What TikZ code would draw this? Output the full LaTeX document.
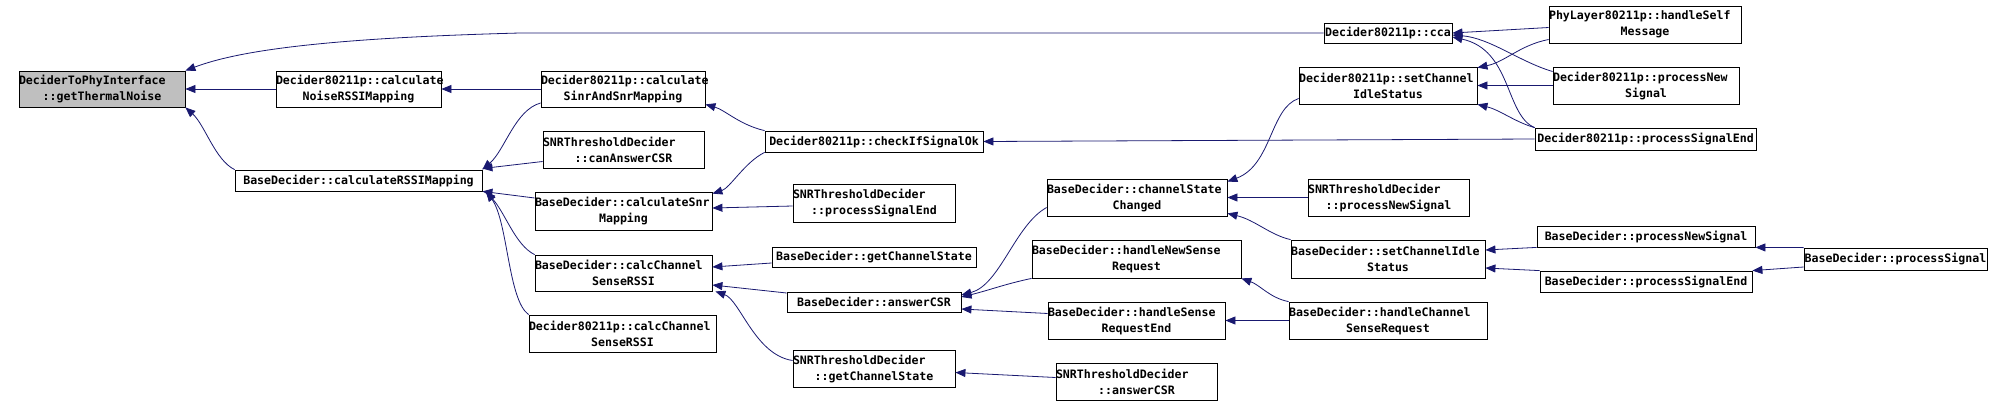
\documentclass[tikz,border=0pt]{standalone}
\usepackage{fontspec}
\usetikzlibrary{arrows.meta}
\newfontfamily\monofam{DejaVu Sans Mono Bold}
\definecolor{edgeblue}{HTML}{191970}
\definecolor{hlgray}{HTML}{BFBFBF}
\newcommand{\mfont}{\monofam\fontsize{11.6}{16}\selectfont}
\newcommand{\tw}[3]{\parbox{#1pt}{\raggedright\noindent #2\par\centering #3\par}}
\tikzset{
  fnbox/.style={draw=black, line width=0.8pt, inner sep=0pt, font=\mfont, text=black, align=center},
  edge/.style={draw=edgeblue, line width=0.8pt, -{Triangle[length=10pt,width=8pt]}},
}
\begin{document}
\begin{tikzpicture}[x=1pt,y=-1pt]
\useasboundingbox (0,0) rectangle (2004,407);
% column 0
\node[fnbox, fill=hlgray, minimum width=166pt, minimum height=36pt] (gtn) at (102,89) {\tw{166}{DeciderToPhyInterface}{::getThermalNoise}};
% column 1
\node[fnbox, minimum width=165pt, minimum height=36pt] (cnrm) at (358.5,89) {\tw{165}{Decider80211p::calculate}{NoiseRSSIMapping}};
\node[fnbox, minimum width=247pt, minimum height=21pt] (crm) at (358.5,180.5) {BaseDecider::calculateRSSIMapping};
% column 2
\node[fnbox, minimum width=164pt, minimum height=36pt] (csm) at (623,89) {\tw{164}{Decider80211p::calculate}{SinrAndSnrMapping}};
\node[fnbox, minimum width=161pt, minimum height=37pt] (cac) at (623.5,149.5) {\tw{161}{SNRThresholdDecider}{::canAnswerCSR}};
\node[fnbox, minimum width=177pt, minimum height=38pt] (csnr) at (623.5,211) {\tw{177}{BaseDecider::calculateSnr}{Mapping}};
\node[fnbox, minimum width=177pt, minimum height=36pt] (bccs) at (623.5,273) {\tw{177}{BaseDecider::calcChannel}{SenseRSSI}};
\node[fnbox, minimum width=187pt, minimum height=37pt] (dccs) at (622.5,333.5) {\tw{187}{Decider80211p::calcChannel}{SenseRSSI}};
% column 3
\node[fnbox, minimum width=218pt, minimum height=21pt] (cso) at (874,141.5) {Decider80211p::checkIfSignalOk};
\node[fnbox, minimum width=162pt, minimum height=38pt] (spse) at (874,203) {\tw{162}{SNRThresholdDecider}{::processSignalEnd}};
\node[fnbox, minimum width=204pt, minimum height=20pt] (bgcs) at (874,257) {BaseDecider::getChannelState};
\node[fnbox, minimum width=174pt, minimum height=20pt] (bacsr) at (874,302) {BaseDecider::answerCSR};
\node[fnbox, minimum width=162pt, minimum height=37pt] (sgcs) at (874,368.5) {\tw{162}{SNRThresholdDecider}{::getChannelState}};
% column 4
\node[fnbox, minimum width=180pt, minimum height=37pt] (csc) at (1137,197.5) {\tw{180}{BaseDecider::channelState}{Changed}};
\node[fnbox, minimum width=209pt, minimum height=38pt] (hnsr) at (1136.5,259) {\tw{209}{BaseDecider::handleNewSense}{Request}};
\node[fnbox, minimum width=177pt, minimum height=37pt] (hsre) at (1136.5,320.5) {\tw{177}{BaseDecider::handleSense}{RequestEnd}};
\node[fnbox, minimum width=161pt, minimum height=37pt] (sacsr) at (1136.5,381.5) {\tw{161}{SNRThresholdDecider}{::answerCSR}};
% column 5
\node[fnbox, minimum width=128pt, minimum height=20pt] (cca) at (1388,33) {Decider80211p::cca};
\node[fnbox, minimum width=178pt, minimum height=37pt] (dscis) at (1388,85.5) {\tw{178}{Decider80211p::setChannel}{IdleStatus}};
\node[fnbox, minimum width=161pt, minimum height=37pt] (snps) at (1388.5,197.5) {\tw{161}{SNRThresholdDecider}{::processNewSignal}};
\node[fnbox, minimum width=194pt, minimum height=38pt] (bscis) at (1388,259) {\tw{194}{BaseDecider::setChannelIdle}{Status}};
\node[fnbox, minimum width=198pt, minimum height=37pt] (hcsr) at (1388,320.5) {\tw{198}{BaseDecider::handleChannel}{SenseRequest}};
% column 6
\node[fnbox, minimum width=192pt, minimum height=37pt] (hsm) at (1645,24.5) {\tw{192}{PhyLayer80211p::handleSelf}{Message}};
\node[fnbox, minimum width=186pt, minimum height=37pt] (dpns) at (1646,85.5) {\tw{186}{Decider80211p::processNew}{Signal}};
\node[fnbox, minimum width=221pt, minimum height=22pt] (dpse) at (1645.5,139) {Decider80211p::processSignalEnd};
\node[fnbox, minimum width=218pt, minimum height=21pt] (bpns) at (1646,236.5) {BaseDecider::processNewSignal};
\node[fnbox, minimum width=212pt, minimum height=21pt] (bpse) at (1646,281.5) {BaseDecider::processSignalEnd};
% column 7
\node[fnbox, minimum width=183pt, minimum height=22pt] (bps) at (1895.5,259) {BaseDecider::processSignal};

% edges
\draw[edge] (cca.west) -- (520,33) .. controls (330,38) and (240,50) .. (gtn.north east);
\draw[edge] (cnrm.west) -- (gtn.east);
\draw[edge] (crm.north west) .. controls (215,160) and (205,125) .. (gtn.south east);
\draw[edge] (csm.west) -- (cnrm.east);
\draw[edge] ([yshift=-14pt]csm.west) .. controls (515,110) and (505,150) .. (crm.north east);
\draw[edge] ([yshift=-12pt]cac.west) -- ([yshift=12pt]crm.east);
\draw[edge] ([yshift=13pt]csnr.west) -- (crm.south east);
\draw[edge] (bccs.north west) .. controls (515,245) and (505,212) .. ([xshift=3pt]crm.south east);
\draw[edge] (dccs.north west) .. controls (508,300) and (508,222) .. ([xshift=4pt]crm.south east);
\draw[edge] (cso.north west) .. controls (740,125) and (725,110) .. ([yshift=3pt]csm.south east);
\draw[edge] (cso.south west) .. controls (745,162) and (730,188) .. ([yshift=-2pt]csnr.north east);
\draw[edge] ([yshift=-3pt]spse.west) -- ([yshift=3pt]csnr.east);
\draw[edge] ([yshift=-6pt]bgcs.west) -- ([yshift=6pt]bccs.east);
\draw[edge] ([yshift=9pt]bacsr.west) -- ([yshift=-12pt]bccs.east);
\draw[edge] ([yshift=8pt]sgcs.west) .. controls (755,355) and (740,300) .. ([xshift=3pt]bccs.south east);
\draw[edge] (dpse.west) -- (cso.east);
\draw[edge] ([yshift=-10pt]csc.west) .. controls (1015,225) and (1000,285) .. ([yshift=7pt]bacsr.east);
\draw[edge] (hnsr.south west) .. controls (1005,284) and (990,290) .. ([yshift=5pt]bacsr.east);
\draw[edge] ([yshift=7pt]hsre.west) -- ([yshift=-7pt]bacsr.east);
\draw[edge] ([yshift=4pt]sacsr.west) -- ([yshift=-4pt]sgcs.east);
\draw[edge] ([yshift=-13pt]dscis.west) .. controls (1270,108) and (1272,165) .. ([yshift=-3pt]csc.north east);
\draw[edge] (snps.west) -- (csc.east);
\draw[edge] (bscis.north west) .. controls (1270,235) and (1255,220) .. ([yshift=3pt]csc.south east);
\draw[edge] (hcsr.north west) .. controls (1270,298) and (1260,285) .. (hnsr.south east);
\draw[edge] (hcsr.west) -- (hsre.east);
\draw[edge] ([yshift=-3pt]hsm.west) -- (cca.east);
\draw[edge] ([yshift=14pt]dpns.west) .. controls (1520,62) and (1490,38) .. ([yshift=-2pt]cca.east);
\draw[edge] (dpse.north west) .. controls (1505,115) and (1512,50) .. ([yshift=-4pt]cca.east);
\draw[edge] ([yshift=-15pt]hsm.west) .. controls (1520,45) and (1505,62) .. ([yshift=-1pt]dscis.north east);
\draw[edge] (dpns.west) -- (dscis.east);
\draw[edge] (dpse.north west) .. controls (1515,122) and (1500,110) .. (dscis.south east);
\draw[edge] (bpns.south west) -- ([yshift=9pt]bscis.east);
\draw[edge] (bpse.north west) -- ([yshift=-9pt]bscis.east);
\draw[edge] (bps.north west) -- (bpns.south east);
\draw[edge] ([yshift=-8pt]bps.west) -- (bpse.north east);
\end{tikzpicture}
\end{document}
